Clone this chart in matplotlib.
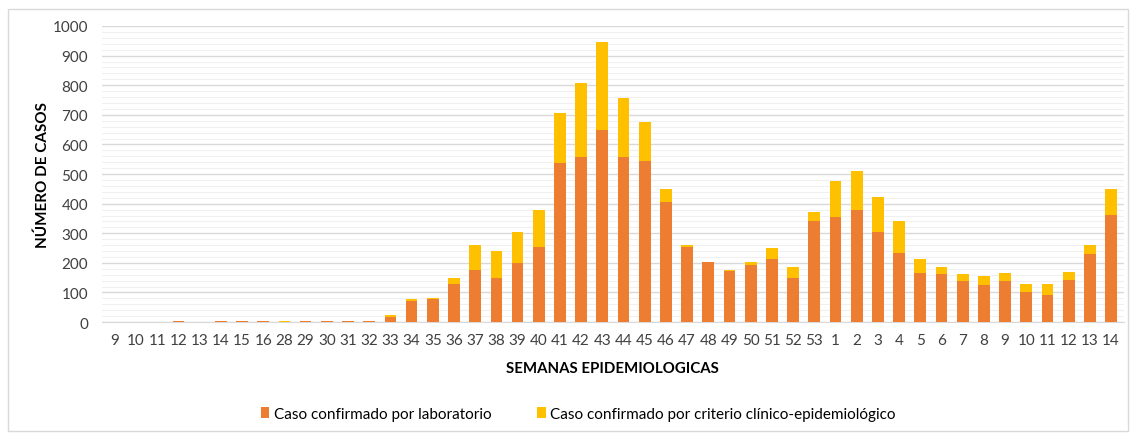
import numpy as np
import matplotlib
matplotlib.use("Agg")
import matplotlib.pyplot as plt
from matplotlib.patches import Rectangle
from matplotlib.ticker import MultipleLocator

plt.rcParams['font.family'] = ['Lato', 'DejaVu Sans']

# semanas epidemiologicas (two years, so labels repeat)
semanas = ['9', '10', '11', '12', '13', '14', '15', '16', '28', '29', '30', '31', '32',
           '33', '34', '35', '36', '37', '38', '39', '40', '41', '42', '43', '44', '45',
           '46', '47', '48', '49', '50', '51', '52', '53', '1', '2', '3', '4', '5', '6',
           '7', '8', '9', '10', '11', '12', '13', '14']

laboratorio = [0, 0, 0, 5, 0, 4, 4, 4, 0, 4, 4, 4, 4,
               18, 72, 79, 130, 176, 150, 199, 254, 538, 557, 648, 557, 544,
               406, 254, 203, 171, 194, 213, 149, 340, 355, 377, 303, 235, 167, 161,
               139, 126, 139, 102, 92, 143, 230, 362]

clinico = [0, 0, 0, 0, 0, 0, 0, 0, 4, 0, 0, 0, 0,
           6, 6, 4, 19, 83, 90, 105, 123, 169, 251, 298, 201, 132,
           44, 5, 0, 6, 8, 36, 36, 33, 123, 132, 119, 105, 45, 24,
           22, 30, 26, 26, 36, 27, 30, 88]

c_lab = '#ED7D31'
c_cli = '#FFC000'

fig = plt.figure(figsize=(11.34, 4.39), dpi=100)
ax = fig.add_axes([0.09, 0.264, 0.901, 0.6745])

x = np.arange(len(semanas))
lab = np.array(laboratorio)
cli = np.array(clinico)
ax.bar(x, lab, width=0.55, color=c_lab, label='Caso confirmado por laboratorio', zorder=3)
ax.bar(x, cli, width=0.55, bottom=lab, color=c_cli,
       label='Caso confirmado por criterio clínico-epidemiológico', zorder=3)

ax.set_ylim(0, 1000)
ax.set_xlim(-0.6, len(semanas) - 0.4)
ax.yaxis.set_major_locator(MultipleLocator(100))
ax.yaxis.set_minor_locator(MultipleLocator(20))
ax.grid(axis='y', which='major', color='#d9d9d9', linewidth=1.0, zorder=0)
ax.grid(axis='y', which='minor', color='#f0f0f0', linewidth=0.8, zorder=0)
ax.set_xticks(x)
ax.set_xticklabels(semanas)
ax.tick_params(axis='both', which='both', length=0, labelsize=11, colors='#404040')
ax.tick_params(axis='x', pad=8)
ax.tick_params(axis='y', pad=10)
for s in ['top', 'right', 'left']:
    ax.spines[s].set_visible(False)
ax.spines['bottom'].set_color('#d9d9d9')

ax.set_xlabel('SEMANAS EPIDEMIOLOGICAS', fontsize=10.8, fontweight='bold', labelpad=10)
ax.set_ylabel('NÚMERO DE CASOS', fontsize=11, fontweight='bold', labelpad=2)

fig.legend(loc='center', bbox_to_anchor=(0.51, 0.055), ncol=2, frameon=False,
           fontsize=11, handlelength=0.55, handleheight=0.7, handletextpad=0.3,
           columnspacing=3.0)

fig.patches.append(Rectangle((0.007, 0.016), 0.988, 0.962, transform=fig.transFigure,
                             fill=False, edgecolor='#d9d9d9', linewidth=1))

fig.savefig('out.png', dpi=100)
